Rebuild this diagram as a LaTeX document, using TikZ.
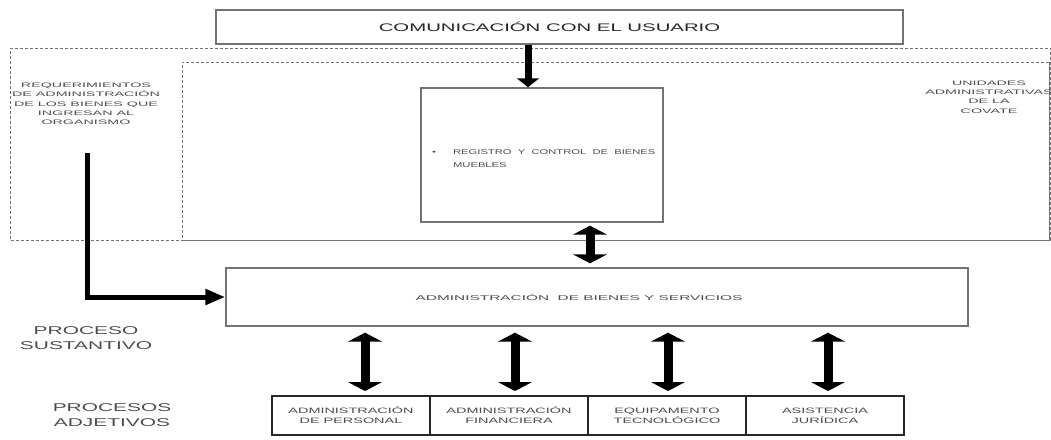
\documentclass[tikz,border=0pt]{standalone}
\usepackage{fontspec}
\usetikzlibrary{arrows.meta}
\newfontfamily\wf[FakeStretch=1.6]{Liberation Sans}
\newfontfamily\wfS[FakeStretch=2.2]{Liberation Sans}
\newfontfamily\wfM[FakeStretch=1.85]{Liberation Sans}
\tikzset{
  box/.style={draw=black!55, line width=1.4pt, fill=white, inner sep=0pt},
  cell/.style={draw=black!85, line width=2pt, fill=white, inner sep=0pt, minimum width=158pt, minimum height=39pt, align=center, font=\wfM\fontsize{7.8}{10}\selectfont, text=black!70},
  dbox/.style={draw=black!55, line width=0.9pt, dash pattern=on 3pt off 2pt, inner sep=0pt},
  lbl/.style={align=center, text=black!70, inner sep=0pt},
  bigarrow/.style={line width=7pt, -{Triangle[width=22pt,length=9pt]}},
  dblarrow/.style={line width=9pt, {Triangle[width=34pt,length=9pt]}-{Triangle[width=34pt,length=9pt]}},
  larrow/.style={line width=5pt, -{Triangle[width=15pt,length=20pt]}},
}
\begin{document}
\begin{tikzpicture}[x=1pt,y=-1pt]
\useasboundingbox (0,0) rectangle (1051,439);
% dashed regions
\node[dbox, minimum width=1040pt, minimum height=192pt] (outer) at (530.5,144) {};
\node[dbox, minimum width=867pt, minimum height=178pt] (inner) at (615.5,151) {};
\draw[draw=black!55, line width=0.9pt] (inner.south west) -- (inner.south east) -- (inner.north east);
% boxes
\node[box, minimum width=687pt, minimum height=34pt, font=\wfM\fontsize{11}{13}\selectfont, text=black!85] (top) at (559.5,27) {\hspace*{-20pt}COMUNICACIÓN CON EL USUARIO};
\node[box, minimum width=242pt, minimum height=134pt] (reg) at (542,155) {};
\node[lbl, anchor=west, font=\wf\fontsize{7}{13}\selectfont] (regt) at (432,158) {\begin{tabular}{@{}l@{\hspace{17pt}}l@{}}•&REGISTRO\ \ Y\ \ CONTROL\ \ DE\ \ BIENES\\&MUEBLES\end{tabular}};
\node[box, minimum width=742pt, minimum height=58pt, font=\wfS\fontsize{7}{9}\selectfont, text=black!70] (admin) at (597,297) {\hspace*{-36pt}ADMINISTRACIÓN\ \ DE BIENES Y SERVICIOS};
% bottom row
\node[cell] (c1) at (351,415.5) {ADMINISTRACIÓN\\DE PERSONAL};
\node[cell] (c2) at (509,415.5) {ADMINISTRACIÓN\\FINANCIERA};
\node[cell] (c3) at (667,415.5) {EQUIPAMENTO\\TECNOLÓGICO};
\node[cell] (c4) at (825,415.5) {ASISTENCIA\\JURÍDICA};
% labels
\node[lbl, font=\wfS\fontsize{6.5}{9.3}\selectfont] (req) at (86,104) {REQUERIMIENTOS\\DE ADMINISTRACIÓN\\DE LOS BIENES QUE\\INGRESAN AL\\ORGANISMO};
\node[lbl, font=\wfS\fontsize{6.5}{9.3}\selectfont] (uni) at (989,97) {UNIDADES\\ADMINISTRATIVAS\\DE LA\\COVATE};
\node[lbl, font=\wfM\fontsize{11.3}{14.5}\selectfont] (ps) at (86,338) {PROCESO\\SUSTANTIVO};
\node[lbl, font=\wfM\fontsize{11.3}{14.5}\selectfont] (pa) at (112,415) {PROCESOS\\ADJETIVOS};
% arrows
\coordinate (xa) at (528,0);
\coordinate (xb) at (590,0);
\draw[bigarrow] (top.south -| xa) -- (reg.north -| xa);
\draw[dblarrow, shorten <=3pt, shorten >=4pt] (reg.south -| xb) -- (admin.north -| xb);
\foreach \xx/\cc in {365/c1, 515/c2, 668/c3, 828/c4}{
  \coordinate (t\cc) at (\xx,0);
  \draw[dblarrow, shorten <=6pt, shorten >=4pt] (admin.south -| t\cc) -- (\cc.north -| t\cc);
}
\coordinate (lstart) at (87,153);
\draw[larrow] (lstart) |- (admin.west);
\end{tikzpicture}
\end{document}
